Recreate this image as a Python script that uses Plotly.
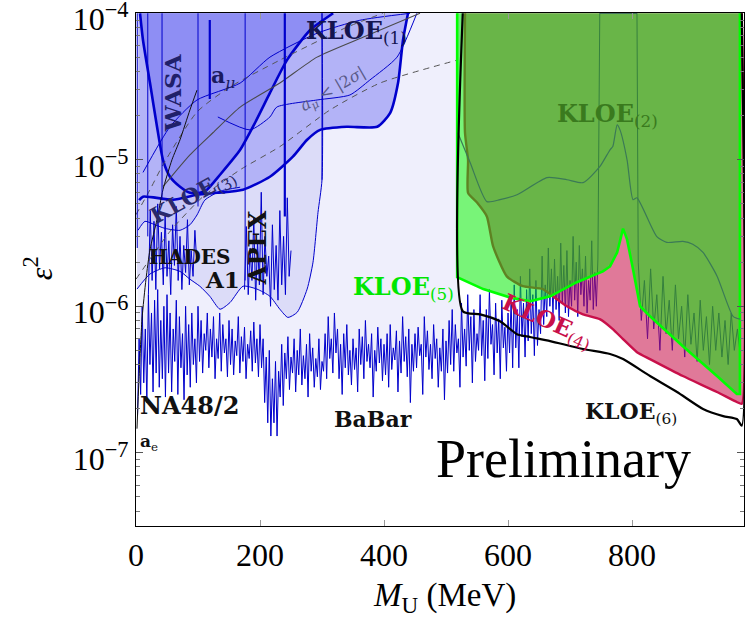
import math
import plotly.graph_objects as go

TOP = 1.0e-4  # upper edge of the plotted epsilon^2 range

# ---------------- BaBar (noisy limit, eps^2 in units of 1e-7), 2.5 MeV sampling ----------------
babar_mass_low = [2.5 * i for i in range(1, 299)]          # 2.5 ... 745 MeV
babar_e7_low = [
    1.8, 6, 2.5, 10, 3, 7, 2.2, 12, 4, 9, 2.6, 11, 3.5, 13, 2.8, 8, 3.2, 10, 2.4, 12,
    3.5, 9, 2.6, 7, 4.2, 11, 2.5, 8.5, 3.8, 6.5, 2.3, 10, 3.4, 7.5, 2.8, 9, 4, 6, 3, 10,
    4.2, 8, 3.5, 6.5, 5, 9, 3.8, 7, 4.5, 8.5, 3.2, 6, 4.4, 9, 3.6, 7.5, 4.8, 6, 3.3, 8,
    4, 7, 3.4, 5.8, 4.6, 8.5, 3.5, 6.2, 4.2, 7.2, 3.2, 5.5, 4.4, 6.8, 3.6, 7.8, 4.1, 6, 3.3, 7.5,
    3.8, 6, 2.2, 4.5, 1.6, 5, 1.3, 3.2, 1.6, 4.2, 1.3, 3.6, 2.4, 5.5, 2.1, 4.8, 3.2, 6.2, 2.7, 4.5,
    3.5, 6, 2.6, 5, 3.4, 7, 2.9, 4.6, 3.2, 5.5, 2.4, 6.5, 3.6, 5.2, 2.8, 4.4, 3.3, 6, 2.7, 4.2,
    3.6, 6.5, 3.2, 8.5, 4.4, 6, 3.5, 9, 4.8, 7, 3.2, 5.5, 2.5, 6.5, 3.8, 7.5, 3.4, 5, 2.9, 6,
    3.7, 5.2, 2.6, 7, 4, 6.2, 3.2, 8, 4.2, 5.5, 3.8, 6.5, 2.4, 5, 3.6, 7.2, 4.1, 6, 3.1, 5.5,
    3.4, 6.5, 2.8, 7.5, 3.7, 5.2, 4.3, 6.8, 2.6, 5.8, 3.5, 8.5, 4.2, 6.2, 3.3, 7, 2.2, 5.5, 3.6, 6.5,
    3.8, 7.2, 4.6, 5.5, 2.5, 8.5, 4.5, 6.8, 3.7, 5.5, 3.2, 7.5, 4.4, 6, 2.8, 5.2, 3.6, 7, 2.3, 5.8,
    3.5, 8, 4, 9.5, 3.6, 7.5, 4.8, 6, 2.8, 10.5, 4.5, 7, 3.9, 12, 5, 8.5, 3, 9.5, 4.2, 6.5,
    5, 12, 4.6, 8, 3.1, 9.5, 4.4, 13, 5.5, 7.5, 3.4, 10.5, 4.8, 8.2, 3.2, 11, 5.2, 7.2, 3.6, 9,
    4.8, 11, 3.8, 14, 5.2, 9.5, 3.8, 16, 6.2, 10.5, 4.5, 13, 5.8, 18, 6.5, 12, 4.6, 15, 5.4, 9.5,
    6.5, 22, 7.5, 14, 8.5, 25, 10, 18, 8.8, 21, 9.5, 16, 8, 27, 10.5, 19, 9, 24, 8.5, 15,
    10, 30, 11, 20, 8.5, 26, 12, 18, 10, 22, 9, 15, 11, 28, 9.5, 17, 10, 21,
]
babar_veto_mass = [748, 808]          # omega region vetoed by BaBar
babar_mass_high = list(range(810, 980, 5))
babar_e7_high = [
    20, 8.0, 15, 6.0, 18, 7.0, 12, 5.0, 16, 6.5, 11, 5.0, 14, 6.0, 10, 4.5, 12, 5.5, 9.0, 4.2,
    11, 5.0, 8.5, 4.0, 10, 5.0, 9.0, 4.5, 8.0, 4.0, 9.0, 5.0, 7.0, 4.5,
]
babar_mass = babar_mass_low + babar_veto_mass + babar_mass_high
babar_eps2 = [v * 1e-7 for v in babar_e7_low] + [TOP, TOP] + [v * 1e-7 for v in babar_e7_high]

# ---------------- HADES / APEX noisy limits (units 1e-6) ----------------
hades_mass = [20, 23, 26, 29, 32, 35, 38, 41, 44, 47, 50, 53, 56, 59, 62, 65, 68, 71, 74, 77, 80, 83, 86, 89, 92, 95, 98]
hades_e6 = [1.2, 4.5, 1.5, 3.8, 1.3, 5.0, 1.8, 3.2, 1.4, 4.2, 1.6, 2.8, 1.2, 3.6, 1.9, 4.8, 1.5, 3.0, 1.3, 2.6, 1.7, 3.9, 1.4, 2.4, 1.6, 3.3, 2.0]
apex_mass = [175, 178, 181, 184, 187, 190, 193, 196, 199, 202, 205, 208, 211, 214, 217, 220, 223, 226, 229, 232, 235, 238, 241, 244, 247, 250]
apex_e6 = [1.3, 3.5, 1.2, 2.5, 1.5, 4.0, 1.1, 2.8, 1.4, 6.0, 1.2, 3.0, 1.6, 2.2, 1.0, 3.6, 1.3, 2.6, 1.1, 4.5, 1.4, 3.0, 1.2, 5.5, 1.6, 2.4]

# ---------------- A1 (lower boundary, region extends to top) ----------------
a1_mass = [1.6, 22.6, 46.8, 71, 87, 103, 119, 135.5, 151.6, 172.6, 195, 216, 232, 245, 260, 276, 285.5, 293.5, 300, 300]
a1_eps2 = [1.31e-6, 1.66e-6, 1.83e-6, 1.73e-6, 1.53e-6, 1.37e-6, 1.17e-6, 9.55e-7, 1.06e-6, 1.37e-6, 1.31e-6,
           1.17e-6, 9.55e-7, 8.39e-7, 9.1e-7, 1.31e-6, 2.0e-6, 4.36e-6, 7.3e-6, 1.0e-4]

# ---------------- KLOE(3) lower boundary ----------------
kloe3_mass = [3.2, 14.5, 30.6, 46.8, 71, 87, 98.4, 111, 135.5, 168]
kloe3_eps2 = [3.3e-6, 3.8e-6, 3.6e-6, 3.4e-6, 3.3e-6, 3.6e-6, 4.2e-6, 5.3e-6, 6.1e-6, 6.5e-6]

# ---------------- KLOE(1) lower boundary ----------------
kloe1_mass = [5, 11.3, 59.7, 98.4, 130.6, 172.6, 216, 253, 276, 297, 340, 389, 410, 422.6, 430.6, 438.7]
kloe1_eps2 = [5.3e-6, 5.6e-6, 5.34e-6, 5.77e-6, 5.95e-6, 6.25e-6, 7.66e-6, 1.05e-5, 1.37e-5, 1.6e-5,
              1.68e-5, 1.68e-5, 2.09e-5, 3.34e-5, 6.55e-5, 1.0e-4]

# ---------------- WASA boundary ----------------
wasa_mass = [6.5, 11.3, 22.6, 33.9, 43.5, 54.8, 71, 87, 103, 114.5, 135.5, 168, 192, 216, 243.5, 280.6, 318]
wasa_eps2 = [1.0e-4, 6.55e-5, 3.34e-5, 1.68e-5, 1.0e-5, 7.66e-6, 6.55e-6, 5.95e-6, 5.95e-6, 6.25e-6,
             7.9e-6, 1.17e-5, 1.79e-5, 2.86e-5, 4.79e-5, 7.66e-5, 1.0e-4]

# ---------------- a_mu curves ----------------
amu_mass = [11.3, 54.8, 98.4, 168, 216, 292, 361, 442]
amu_eps2 = [8.2e-6, 1.68e-5, 2.56e-5, 3.34e-5, 5.02e-5, 7.31e-5, 8.96e-5, 1.0e-4]
amu2s_mass = [132, 184, 216, 227, 292, 345, 377, 421, 453]
amu2s_eps2 = [1.96e-5, 1.6e-5, 1.96e-5, 2.29e-5, 2.56e-5, 2.77e-5, 3.5e-5, 5.02e-5, 1.0e-4]
dashA_mass = [0, 22.6, 43.5, 98.4, 151.6, 232, 340, 398]
dashA_eps2 = [4.22e-6, 6.25e-6, 9.24e-6, 2.12e-5, 3.14e-5, 4.79e-5, 8.03e-5, 1.0e-4]
dashB_mass = [0, 54.8, 108, 168, 232, 313, 393.5, 518]
dashB_eps2 = [1.53e-6, 3.24e-6, 5.6e-6, 8.55e-6, 1.23e-5, 2.19e-5, 3.34e-5, 4.79e-5]
grey_mass = [43.5, 87, 124, 168, 232, 292, 366, 458]
grey_eps2 = [6.55e-6, 1.08e-5, 1.53e-5, 2.29e-5, 3.34e-5, 5.02e-5, 6.86e-5, 1.0e-4]

# ---------------- a_e curve ----------------
ae_mass = [1.6, 4.8, 9.7, 16.1, 22.6, 33.9, 43.5, 58, 71, 87, 98.4]
ae_eps2 = [1.46e-7, 3.19e-7, 8.17e-7, 1.53e-6, 2.44e-6, 3.9e-6, 6.25e-6, 1.0e-5, 1.37e-5, 2.19e-5, 2.99e-5]

# ---------------- vertical region edges ----------------
edge_mass = [2, 19, 42, 100, 176, 300]
edge_low = [2.5e-6, 3.0e-6, 5.3e-6, 4.8e-6, 1.5e-6, 7.3e-6]
bold_edge_mass = [119, 240]
bold_edge_low = [2.6e-5, 4.1e-6]
bold_edge_high = [9.0e-5, 1.0e-4]

# ---------------- KLOE(4), (5), (6), (2) ----------------
kloe4_mass = [530.6, 530.6, 535.5, 535.5, 550, 566, 576, 598, 624, 656, 672.6, 695, 721, 748, 769, 785.5,
              808, 829, 882, 937, 969, 977, 977]
kloe4_eps2 = [1e-4, 1.53e-5, 1.0e-5, 5.95e-6, 5.1e-6, 4.09e-6, 2.56e-6, 1.6e-6, 1.37e-6, 1.31e-6, 1.17e-6,
              1.0e-6, 8.8e-7, 8.17e-7, 6.99e-7, 5.97e-7, 4.86e-7, 4.36e-7, 3.34e-7, 2.6e-7, 2.22e-7, 2.16e-7, 1e-4]
kloe5_mass = [518, 518, 560, 603, 635.5, 668, 711, 753, 764.5, 776, 785.5, 792, 801.6, 813, 829, 882, 937,
              969, 974, 974]
kloe5_eps2 = [1e-4, 1.58e-6, 1.31e-6, 1.15e-6, 1.08e-6, 1.17e-6, 1.46e-6, 1.73e-6, 1.87e-6, 2.33e-6, 3.39e-6,
              2.86e-6, 1.79e-6, 1.0e-6, 8.55e-7, 5.34e-7, 3.34e-7, 2.52e-7, 2.52e-7, 1e-4]
kloe6_mass = [527, 527, 555, 587, 614.5, 635.5, 668, 721, 764.5, 785.5, 829, 872.6, 914.5, 947, 969, 977, 977]
kloe6_eps2 = [1e-4, 9.25e-7, 8.8e-7, 7.9e-7, 6.45e-7, 6.17e-7, 5.78e-7, 5.11e-7, 4.72e-7, 4.36e-7, 3.34e-7,
              2.6e-7, 1.99e-7, 1.78e-7, 1.70e-7, 1.53e-7, 1e-4]
kloe2_mass = [519, 539, 566, 587, 614.5, 663, 695, 721, 748, 764.5, 769, 776, 780.6, 792, 801.6, 808, 840,
              856, 882, 898, 914.5, 937, 963, 974]
kloe2_eps2 = [1.53e-5, 9.54e-6, 5.18e-6, 5.34e-6, 5.77e-6, 7.56e-6, 7.31e-6, 6.98e-6, 8.97e-6, 1.17e-5,
              1.23e-5, 1.73e-5, 1.6e-5, 1.0e-5, 5.34e-6, 5.5e-6, 2.99e-6, 2.73e-6, 2.77e-6, 2.65e-6, 2.33e-6,
              1.61e-6, 8.53e-7, 8.17e-7]

# ---------------- axis tick labels ----------------
x_ticks = [0, 200, 400, 600, 800]
y_ticks = [1e-7, 1e-6, 1e-5, 1e-4]
y_ticktext = ["10<sup>−7</sup>", "10<sup>−6</sup>", "10<sup>−5</sup>", "10<sup>−4</sup>"]
minor_vals = [m * 10.0 ** e for e in range(-8, -4) for m in range(2, 10)]

# ---------------- labels ----------------
label_text = ["<b>WASA</b>", "<b>a</b><sub><i>μ</i></sub>", "<b>KLOE</b><sub>(1)</sub>",
              "<i>a</i><sub><i>μ</i></sub> &lt; |2<i>σ</i>|", "<b>KLOE</b><sub>(3)</sub>", "<b>APEX</b>",
              "<b>HADES</b>", "<b>A1</b>", "<b>NA48/2</b>", "<b>a</b><sub>e</sub>", "<b>BaBar</b>",
              "<b>KLOE</b><sub>(2)</sub>", "<b>KLOE</b><sub>(5)</sub>", "<b>KLOE</b><sub>(4)</sub>",
              "<b>KLOE</b><sub>(6)</sub>"]
label_mass = [60, 140, 356, 318, 92, 197, 87, 139, 85.5, 21, 382, 761, 432, 663, 798]
label_eps2 = [2.86e-5, 3.67e-5, 7.5e-5, 3.0e-5, 5.6e-6, 2.5e-6, 2.16e-6, 1.53e-6, 2.09e-7, 1.17e-7, 1.71e-7,
              2.02e-5, 1.34e-6, 7.9e-7, 1.86e-7]
label_size = [23, 22, 24, 16, 22, 24, 20, 23, 24, 17, 22, 24, 24, 23, 22]
label_color = ["#20206a", "#1a1a60", "#141450", "#5a5a88", "#2a2a6a", "#111111", "#111111", "#111111",
               "#111111", "#111111", "#111111", "#3a7a1e", "#00e600", "#c8104a", "#111111"]
label_angle = [-90, 0, 0, -30, -29, -90, 0, 0, 0, 0, 0, 0, 0, 24, 0]

BLUE = "#0000cc"
fig = go.Figure()


def closed(xs, ys):
    return xs + [xs[-1], xs[0]], ys + [TOP, TOP]


def fill_region(xs, ys, color, shape="spline"):
    fx, fy = closed(xs, ys)
    fig.add_trace(go.Scatter(x=fx, y=fy, mode="lines", fill="toself", fillcolor=color,
                             line=dict(width=0, shape=shape, smoothing=0.6), hoverinfo="skip"))


def line(xs, ys, color, width=1.0, dash=None, shape="spline"):
    fig.add_trace(go.Scatter(x=xs, y=ys, mode="lines",
                             line=dict(color=color, width=width, dash=dash, shape=shape, smoothing=0.6),
                             hoverinfo="skip"))


hades_eps2 = [v * 1e-6 for v in hades_e6]
apex_eps2 = [v * 1e-6 for v in apex_e6]

# fills (back to front)
fill_region(babar_mass, babar_eps2, "#efeffc", shape="linear")
fill_region(a1_mass, a1_eps2, "#dcdcf8")
fill_region(kloe3_mass, kloe3_eps2, "#c6c6f7")
fill_region(kloe1_mass, kloe1_eps2, "#b3b3f7")
fig.add_trace(go.Scatter(x=wasa_mass, y=wasa_eps2, mode="lines", fill="toself", fillcolor="#8e8ef4",
                         line=dict(width=0, shape="spline", smoothing=0.6), hoverinfo="skip"))
fig.add_trace(go.Scatter(x=kloe6_mass, y=kloe6_eps2, mode="lines", fill="toself", fillcolor="white",
                         line=dict(width=0, shape="spline", smoothing=0.5), hoverinfo="skip"))

# noisy limits
line(babar_mass, babar_eps2, BLUE, 1.0, shape="linear")
line(hades_mass, hades_eps2, BLUE, 1.0, shape="linear")
line(apex_mass, apex_eps2, BLUE, 1.0, shape="linear")

# outlines
line(a1_mass, a1_eps2, BLUE, 1.0)
line(kloe3_mass, kloe3_eps2, BLUE, 1.0)
line(kloe1_mass, kloe1_eps2, BLUE, 2.6)
line(wasa_mass, wasa_eps2, BLUE, 2.6)
line(amu_mass, amu_eps2, BLUE, 1.0)
line(amu2s_mass, amu2s_eps2, BLUE, 1.0)
line(dashA_mass, dashA_eps2, "#555555", 1.0, dash="6px,5px")
line(dashB_mass, dashB_eps2, "#555555", 1.0, dash="6px,5px")
line(grey_mass, grey_eps2, "#4a4a4a", 1.1)
line(ae_mass, ae_eps2, "#111111", 1.0)

ex, ey = [], []
for m, lo in zip(edge_mass, edge_low):
    ex += [m, m, None]
    ey += [lo, TOP, None]
line(ex, ey, BLUE, 1.0, shape="linear")
bx, by = [], []
for m, lo, hi in zip(bold_edge_mass, bold_edge_low, bold_edge_high):
    bx += [m, m, None]
    by += [lo, hi, None]
line(bx, by, BLUE, 2.2, shape="linear")

# KLOE(4)
fig.add_trace(go.Scatter(x=kloe4_mass, y=kloe4_eps2, mode="lines", fill="toself",
                         fillcolor="rgba(200,16,74,0.56)",
                         line=dict(color="#c8104a", width=2.4, shape="spline", smoothing=0.5),
                         hoverinfo="skip"))
# KLOE(5)
fig.add_trace(go.Scatter(x=kloe5_mass, y=kloe5_eps2, mode="lines", fill="toself",
                         fillcolor="rgba(0,235,0,0.53)",
                         line=dict(color="#00ff00", width=2.6, shape="linear"),
                         hoverinfo="skip"))
# KLOE(2) curve
line(kloe2_mass, kloe2_eps2, "#3b7a56", 1.2)
# KLOE(6) outline
line(kloe6_mass, kloe6_eps2, "#000000", 2.2, shape="spline")

annotations = []
for t, m, e, s, c, a in zip(label_text, label_mass, label_eps2, label_size, label_color, label_angle):
    annotations.append(dict(x=m, y=math.log10(e), xref="x", yref="y", text=t, showarrow=False,
                            textangle=a, xanchor="center", yanchor="middle",
                            font=dict(family="DejaVu Serif", size=s, color=c)))
annotations.append(dict(x=689, y=math.log10(9.0e-8), xref="x", yref="y", text="Preliminary",
                        showarrow=False, xanchor="center", yanchor="middle",
                        font=dict(family="Liberation Serif", size=54, color="#000000")))
annotations.append(dict(x=0.507, y=-0.14, xref="paper", yref="paper", text="<i>M</i><sub>U</sub> (MeV)",
                        showarrow=False, xanchor="center", yanchor="middle",
                        font=dict(family="Liberation Serif", size=33, color="#000000")))
annotations.append(dict(x=-0.16, y=0.502, xref="paper", yref="paper", text="<i>ε</i><sup>2</sup>",
                        showarrow=False, textangle=-90, xanchor="center", yanchor="middle",
                        font=dict(family="Liberation Serif", size=32, color="#000000")))

fig.update_layout(
    width=745, height=619,
    margin=dict(l=136, r=1, t=13, b=93, autoexpand=False),
    paper_bgcolor="white", plot_bgcolor="white",
    showlegend=False,
    annotations=annotations,
    xaxis=dict(range=[0, 980.6], tickmode="array", tickvals=x_ticks, ticks="inside", ticklen=6,
               tickcolor="#999999", showline=True, linecolor="#000000", linewidth=1.2, mirror="ticks",
               showgrid=False, zeroline=False, automargin=False, ticklabeloverflow="allow",
               tickfont=dict(family="Liberation Serif", size=32, color="#000000")),
    yaxis=dict(type="log", range=[-7.5, -3.998], tickmode="array", tickvals=y_ticks, ticktext=y_ticktext,
               ticks="inside", ticklen=7, tickcolor="#555555", showline=True, linecolor="#000000",
               linewidth=1.2, mirror="ticks", showgrid=False, zeroline=False, automargin=False,
               ticklabeloverflow="allow", ticklabelshift=6,
               minor=dict(ticks="inside", ticklen=4, tickcolor="#777777", showgrid=False,
                          tickmode="array", tickvals=minor_vals),
               tickfont=dict(family="Liberation Serif", size=32, color="#000000")),
)

# remove the browser's default 8 px body margin so the figure sits at the page origin
fig.write_html("out.html", config={"displayModeBar": False},
               post_script="document.body.style.margin='0px';")
